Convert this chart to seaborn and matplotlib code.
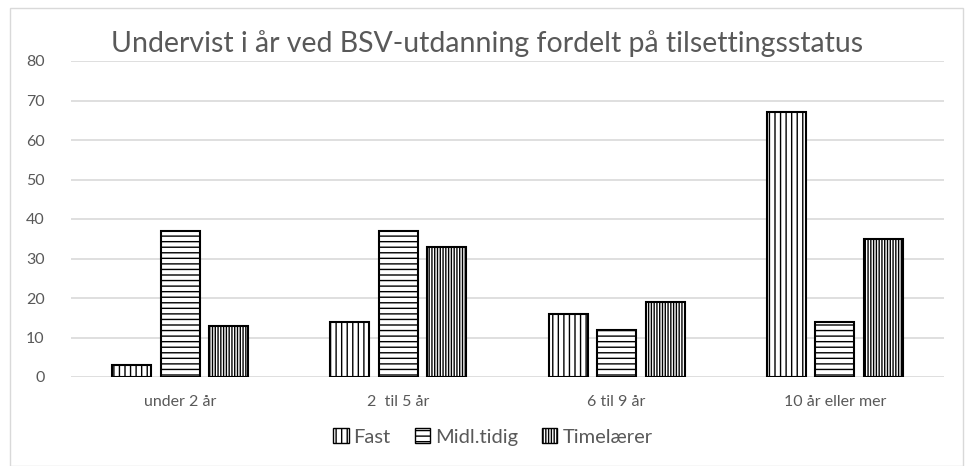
import matplotlib
matplotlib.use('Agg')
import matplotlib.pyplot as plt
import seaborn as sns
import pandas as pd
from matplotlib.patches import Patch, Rectangle

# data
kategorier = ['under 2 år', '2  til 5 år', '6 til 9 år', '10 år eller mer']
fast = [3, 14, 16, 67]
midl = [37, 37, 12, 14]
time = [13, 33, 19, 35]
serier = ['Fast', 'Midl.tidig', 'Timelærer']
monstre = ['|||', '---', '||||||']

df = pd.DataFrame({
    'kategori': kategorier * 3,
    'verdi': fast + midl + time,
    'status': [s for s in serier for _ in kategorier],
})

sns.set_style('white')
plt.rcParams['font.family'] = ['Lato', 'DejaVu Sans']
plt.rcParams['hatch.linewidth'] = 1.0
grey = '#595959'

fig = plt.figure(figsize=(9.73, 4.66), dpi=100)
ax = fig.add_axes([71/973, 1-377/466, (944-71)/973, (377-61)/466])

sns.barplot(data=df, x='kategori', y='verdi', hue='status', order=kategorier,
            hue_order=serier, palette=['white']*3, width=0.667, gap=0.2,
            edgecolor='black', linewidth=1.5, legend=False, ax=ax)

for cont, h in zip(ax.containers, monstre):
    for bar in cont:
        bar.set_hatch(h)

ax.set_ylim(0, 80)
ax.set_xlim(-0.5, 3.5)
ax.set_yticks(range(0, 81, 10))
ax.yaxis.grid(True, color='#d9d9d9', linewidth=1.2)
ax.set_axisbelow(True)
for s in ax.spines.values():
    s.set_visible(False)
ax.tick_params(axis='y', colors=grey, labelsize=11.5, length=0, pad=19)
ax.tick_params(axis='x', colors=grey, labelsize=11.5, length=0, pad=13)
ax.set_xlabel('')
ax.set_ylabel('')

fig.text(487/973, 1-44/466, 'Undervist i år ved BSV-utdanning fordelt på tilsettingsstatus',
         ha='center', va='center', fontsize=20.5, color=grey)

handles = [Patch(facecolor='white', edgecolor='black', hatch=h, label=s)
           for s, h in zip(serier, monstre)]
fig.legend(handles=handles, loc='center', bbox_to_anchor=(493/973, 1-437/466),
           ncol=3, frameon=False, fontsize=14.5, labelcolor=grey,
           handlelength=0.75, handleheight=0.75, handletextpad=0.25, columnspacing=1.2)

fig.patches.append(Rectangle((10/973, 0), 953/973, 458/466, transform=fig.transFigure,
                             fill=False, edgecolor='#d9d9d9', linewidth=1))

fig.savefig('out.png', dpi=100)
